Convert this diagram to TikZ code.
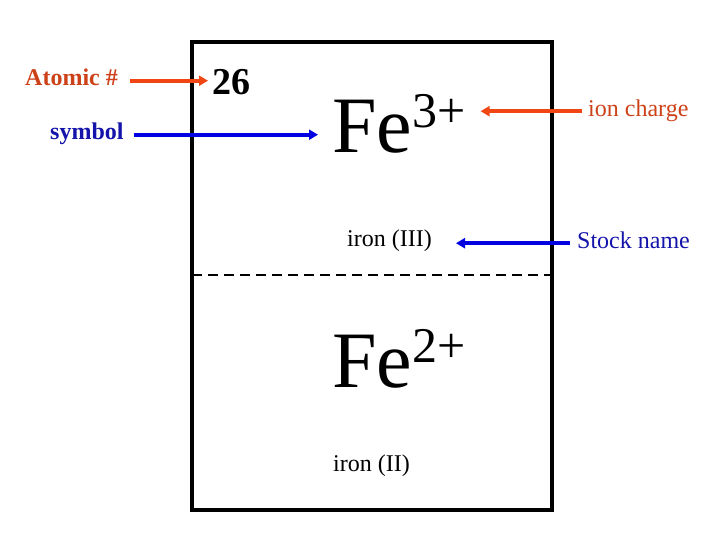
\documentclass[tikz,border=0pt]{standalone}
\usepackage{fontspec}
\setmainfont{Liberation Serif}
\usetikzlibrary{arrows.meta}
\definecolor{labelred}{RGB}{205,65,25}
\definecolor{arrowred}{RGB}{240,70,20}
\definecolor{labelblue}{RGB}{20,20,170}
\definecolor{arrowblue}{RGB}{0,0,225}
\newcommand{\ionsym}[2]{#1\raisebox{25pt}{\fontsize{50}{50}\selectfont #2}}

\begin{document}
\begin{tikzpicture}[x=1pt, y=-1pt, >={Triangle[length=9pt, width=10pt]},
    txt/.style={inner sep=0pt, anchor=base west},
    big/.style={txt, font=\fontsize{80}{90}\selectfont},
    small/.style={txt, font=\fontsize{24}{28}\selectfont},
    tag/.style={txt, font=\bfseries\fontsize{24}{28}\selectfont},
    pointer/.style={->, line width=3.8pt}]
  \useasboundingbox (0,0) rectangle (720,540);
  % the card
  \draw[line width=3.5pt] (192,42) rectangle (552,510);
  \draw[line width=2.5pt, dash pattern=on 10pt off 6pt] (192,275) -- (552,275);
  \node[tag, labelred] (atomic) at (25,86) {Atomic \#};
  \node[tag, labelblue] (symbol) at (50,140) {symbol};
  \node[txt, font=\bfseries\fontsize{38}{42}\selectfont] (num) at (212,95) {26};
  \node[big] (fe3) at (332,153) {\ionsym{Fe}{3+}};
  \node[small] (roman3) at (347,246) {iron (III)};
  \node[big] (fe2) at (332,387) {\ionsym{Fe}{2+}};
  \node[small] (roman2) at (333,471) {iron (II)};
  \node[small, labelred] (charge) at (588,117) {ion charge};
  \node[small, labelblue] (stock) at (577,248) {Stock name};
  % pointers
  \draw[pointer, arrowred, shorten <=12pt, shorten >=4pt]
    ([yshift=3pt]atomic.mid east) -- ([yshift=3pt]atomic.mid east -| num.west);
  \draw[pointer, arrowblue, shorten <=10pt, shorten >=14pt]
    ([yshift=3pt]symbol.mid east) -- ([yshift=3pt]symbol.mid east -| fe3.west);
  \draw[pointer, arrowred, shorten <=6pt, shorten >=15pt]
    ([yshift=3.5pt]charge.mid west) -- ([yshift=3.5pt]charge.mid west -| fe3.east);
  \draw[pointer, arrowblue, shorten <=7pt, shorten >=24pt]
    ([yshift=2.5pt]stock.mid west) -- ([yshift=2.5pt]stock.mid west -| roman3.east);
\end{tikzpicture}
\end{document}
